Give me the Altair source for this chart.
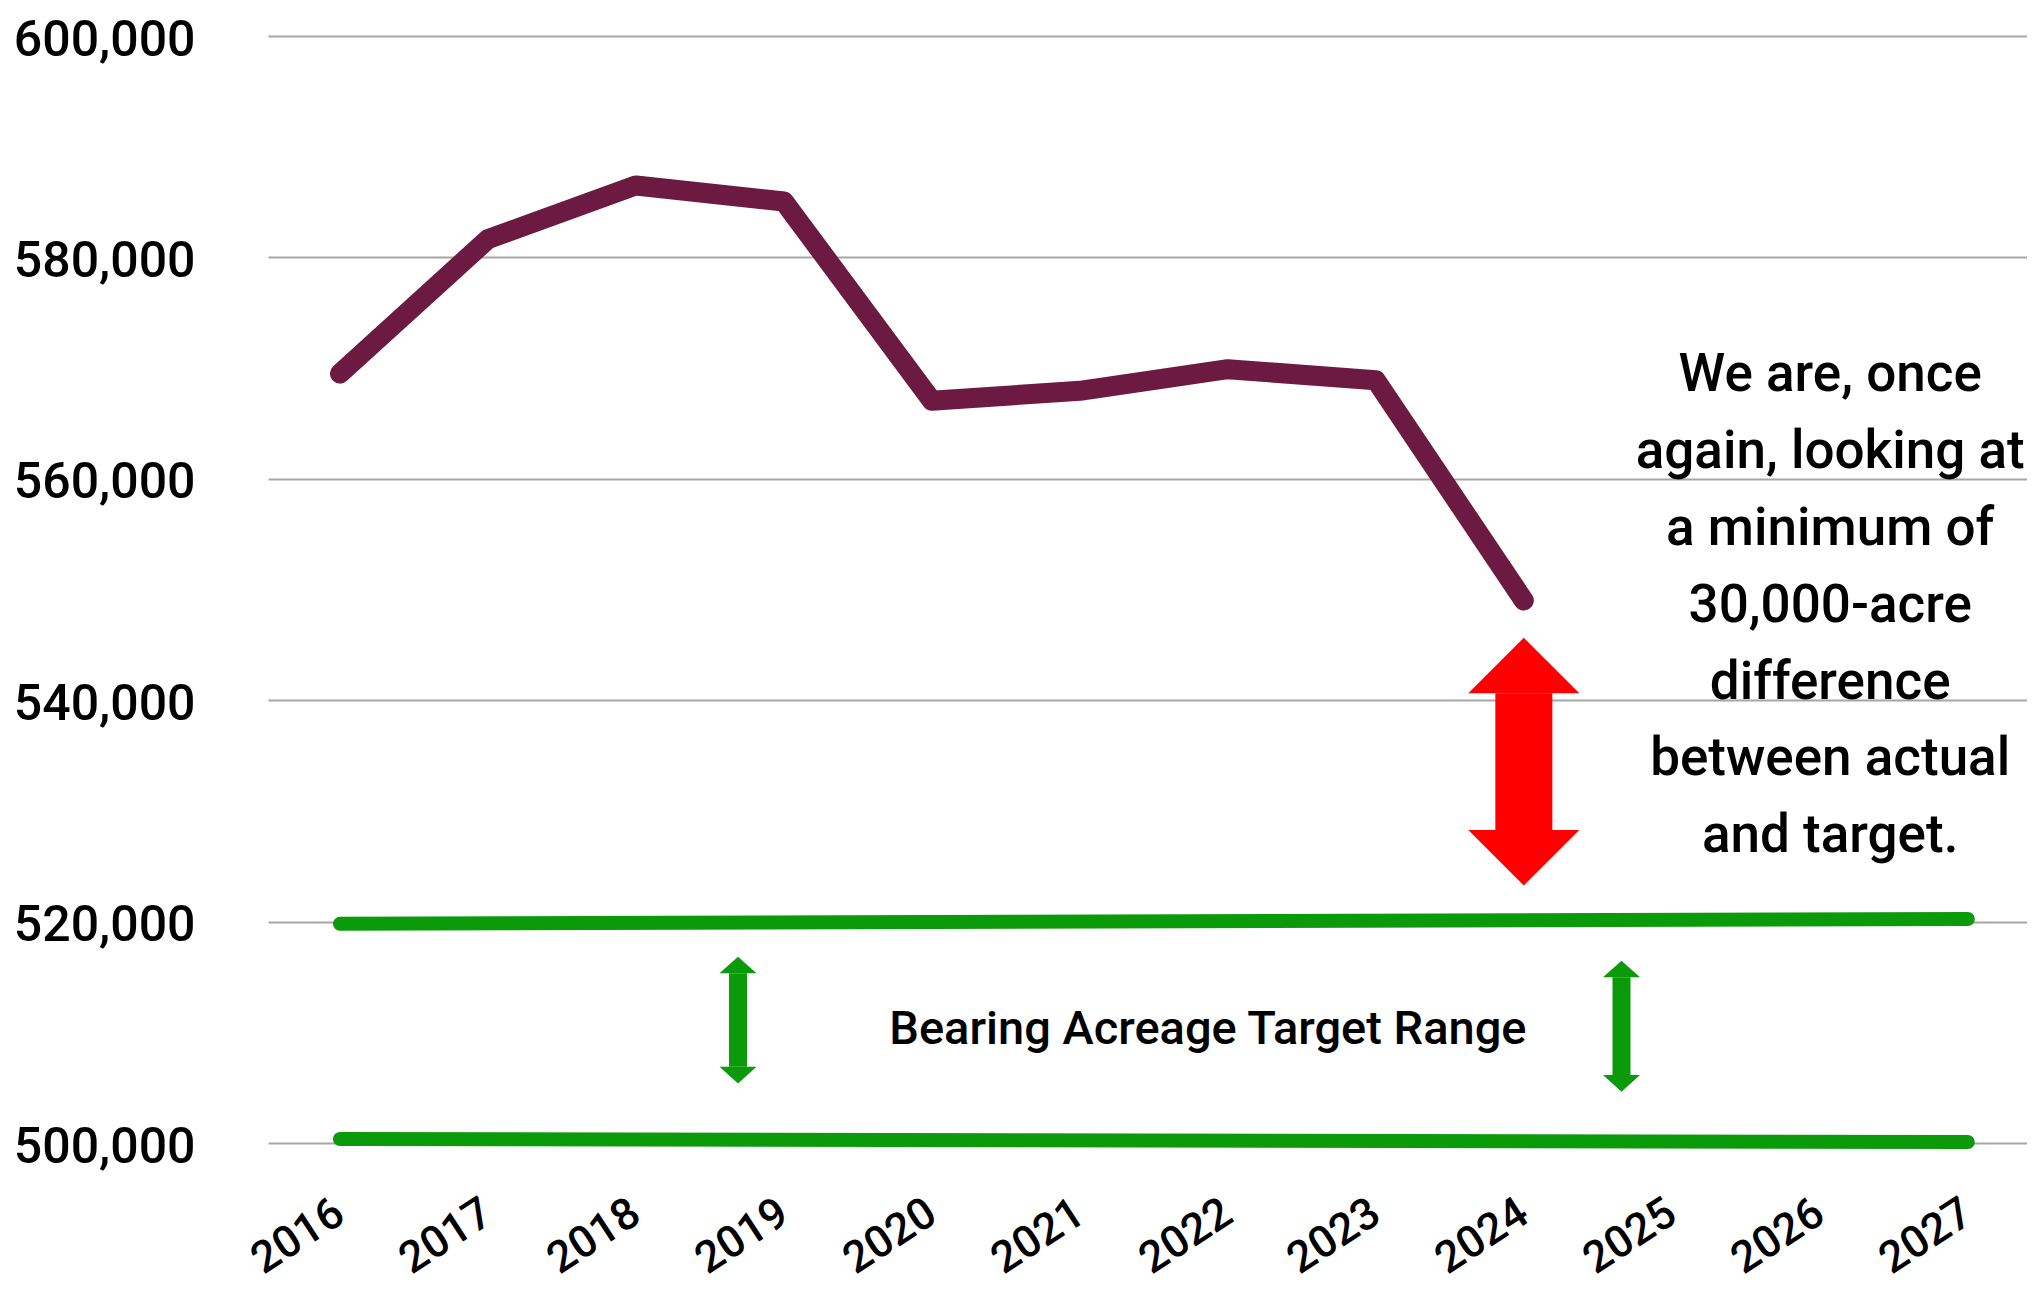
import altair as alt
import pandas as pd

# ---------------- data ----------------
years = [2016, 2017, 2018, 2019, 2020, 2021, 2022, 2023, 2024]
acreage = [569500, 581650, 586500, 585050, 567050, 567950, 569900, 568900, 549000]

target_years = [2016, 2027]
target_upper = [519800, 520230]
target_lower = [500360, 500090]

x_ticks = list(range(2016, 2028))
y_ticks = [500000, 520000, 540000, 560000, 580000, 600000]

red_arrow_x = [2024.0]
red_arrow_top = [540620]
red_arrow_bottom = [528280]

green_arrow_x = [2018.69, 2024.66]
green_arrow_top = [515330, 514970]
green_arrow_bottom = [506890, 506140]

note_lines = ["We are, once", "again, looking at", "a minimum of", "30,000-acre",
              "difference", "between actual", "and target."]
note_x = [2026.07]
note_y = [567900]

range_label = ["Bearing Acreage Target Range"]
range_x = [2021.865]
range_y = [508940]

# ---------------- styling ----------------
FONT = "Roboto"
PURPLE = "#6c1a42"
GREEN = "#0a9a0a"
RED = "#ff0000"

xs = alt.Scale(domain=[2015.514, 2027.4], nice=False, zero=False)
ys = alt.Scale(domain=[500000, 600000], nice=False, zero=False)

xaxis = alt.Axis(values=x_ticks, format="d", labelAngle=-33, labelAlign="right",
                 labelBaseline="middle", labelPadding=66, labelFontSize=44,
                 labelFont=FONT, labelFontWeight=500, labelColor="black",
                 ticks=False, domain=False, grid=False, title=None,
                 labelOverlap=False, labelFlush=False, labelLimit=400)
yaxis = alt.Axis(values=y_ticks, format=",d", labelFontSize=50, labelFont=FONT,
                 labelFontWeight=500, labelColor="black", labelPadding=73,
                 labelOffset=4, labelLimit=400, ticks=False, domain=False, grid=True,
                 gridColor="#a6a6a6", gridWidth=2, title=None,
                 labelOverlap=False, labelFlush=False)

X = alt.X("x:Q", scale=xs, axis=xaxis)
Y = alt.Y("y:Q", scale=ys, axis=yaxis)

# ---------------- tables ----------------
line_df = pd.DataFrame({"x": years, "y": acreage})
upper_df = pd.DataFrame({"x": target_years, "y": target_upper})
lower_df = pd.DataFrame({"x": target_years, "y": target_lower})
red_df = pd.DataFrame({"x": red_arrow_x, "y": red_arrow_top, "y2": red_arrow_bottom})
green_df = pd.DataFrame({"x": green_arrow_x, "y": green_arrow_top, "y2": green_arrow_bottom})
note_df = pd.DataFrame({"x": note_x, "y": note_y})
range_df = pd.DataFrame({"x": range_x, "y": range_y, "t": range_label})

# ---------------- layers ----------------
upper = alt.Chart(upper_df).mark_line(color=GREEN, strokeWidth=14, strokeCap="round").encode(x=X, y=Y)
lower = alt.Chart(lower_df).mark_line(color=GREEN, strokeWidth=14, strokeCap="round").encode(x=X, y=Y)

acre_line = alt.Chart(line_df).mark_line(
    color=PURPLE, strokeWidth=20, strokeCap="round", strokeJoin="round"
).encode(x=X, y=Y)

# red double arrow
red_shaft = alt.Chart(red_df).mark_rule(color=RED, strokeWidth=57).encode(x=X, y=Y, y2="y2:Q")
red_head_up = alt.Chart(red_df).mark_point(
    shape="M-1,0L1,0L0,-1Z", filled=True, fill=RED, opacity=1, strokeWidth=0, size=12321
).encode(x=X, y=Y)
red_head_down = alt.Chart(red_df).mark_point(
    shape="M-1,0L1,0L0,1Z", filled=True, fill=RED, opacity=1, strokeWidth=0, size=12321
).encode(x=X, y=alt.Y("y2:Q", scale=ys, axis=yaxis))

# green double arrows
green_shaft = alt.Chart(green_df).mark_rule(color=GREEN, strokeWidth=18).encode(x=X, y=Y, y2="y2:Q")
green_head_up = alt.Chart(green_df).mark_point(
    shape="M-1,0L1,0L0,-0.9Z", filled=True, fill=GREEN, opacity=1, strokeWidth=0, size=1369
).encode(x=X, y=Y)
green_head_down = alt.Chart(green_df).mark_point(
    shape="M-1,0L1,0L0,0.9Z", filled=True, fill=GREEN, opacity=1, strokeWidth=0, size=1369
).encode(x=X, y=alt.Y("y2:Q", scale=ys, axis=yaxis))

note = alt.Chart(note_df).mark_text(
    text=note_lines, font=FONT, fontSize=53, fontWeight=500, lineHeight=76.8,
    align="center", baseline="alphabetic", color="black"
).encode(x=X, y=Y)

range_text = alt.Chart(range_df).mark_text(
    font=FONT, fontSize=47, fontWeight=500, align="center", baseline="alphabetic",
    color="black"
).encode(x=X, y=Y, text="t:N")

chart = alt.layer(
    upper, lower, acre_line,
    red_shaft, red_head_up, red_head_down,
    green_shaft, green_head_up, green_head_down,
    note, range_text
).properties(
    width=1759, height=1107,
    padding={"left": 260, "top": 28, "right": 0, "bottom": 144},
    autosize=alt.AutoSizeParams(type="none"),
    background="white"
).configure_view(stroke=None)

chart.save("out.html", embed_options={"renderer": "svg", "actions": False})
